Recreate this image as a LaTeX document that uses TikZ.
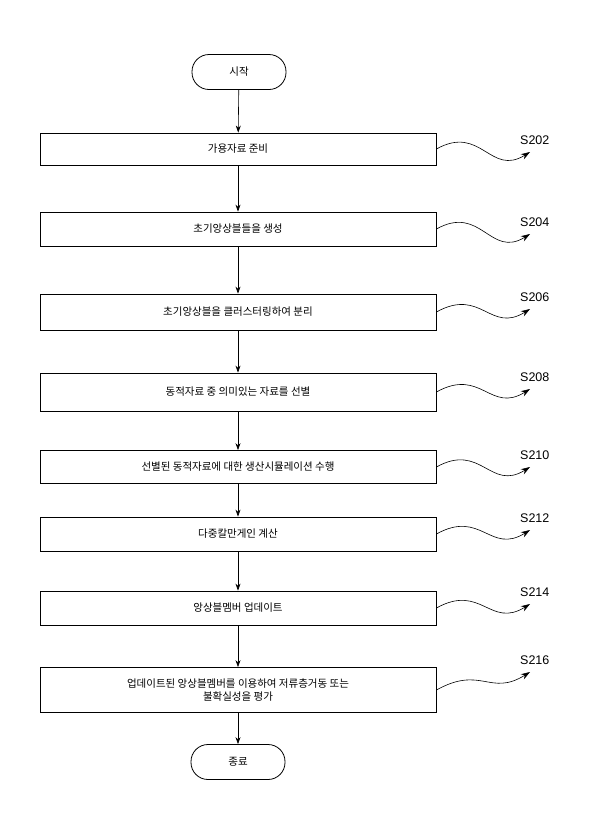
\documentclass[tikz,border=0pt]{standalone}
\usepackage{fontspec}
\newfontfamily\kr{Noto Sans CJK KR}
\setsansfont{Liberation Sans}
\usetikzlibrary{arrows.meta}
\begin{document}
\begin{tikzpicture}[x=1pt,y=-1pt,
  box/.style={draw,line width=0.8pt,minimum width=396pt,font=\kr\fontsize{10.5}{13}\selectfont,align=center,inner sep=2pt},
  term/.style={draw,line width=0.8pt,rounded corners=17pt,minimum width=94pt,minimum height=35pt,font=\kr\fontsize{10.5}{13}\selectfont},
  lab/.style={font=\fontsize{12.5}{14}\selectfont\sffamily,anchor=west,inner sep=0pt},
  flow/.style={-{Stealth[length=7pt,width=5pt]},line width=0.6pt},
  wave/.style={-{Stealth[length=9pt,width=6pt]},line width=0.6pt}]
\useasboundingbox (0,0) rectangle (600,836);
\node[term] (st) at (239,72) {시작};
\node[box,minimum height=32pt] (b1) at (238,149) {가용자료 준비};
\node[box,minimum height=34pt] (b2) at (238,229) {초기앙상블들을 생성};
\node[box,minimum height=36pt] (b3) at (238,312) {초기앙상블을 클러스터링하여 분리};
\node[box,minimum height=38pt] (b4) at (238,392) {동적자료 중 의미있는 자료를 선별};
\node[box,minimum height=33pt] (b5) at (238,467) {선별된 동적자료에 대한 생산시뮬레이션 수행};
\node[box,minimum height=34pt] (b6) at (238,534) {다중칼만게인 계산};
\node[box,minimum height=34pt] (b7) at (238,608) {앙상블멤버 업데이트};
\node[box,minimum height=45pt] (b8) at (238,690) {업데이트된 앙상블멤버를 이용하여 저류층거동 또는\\불확실성을 평가};
\node[term] (en) at (238,762) {종료};
\draw[flow] (st) -- (b1);
\foreach \a/\b in {b1/b2,b2/b3,b3/b4,b4/b5,b5/b6,b6/b7,b7/b8,b8/en}{\draw[flow] (\a) -- (\b);}
\foreach \n/\t/\ly in {b1/S202/140,b2/S204/222,b3/S206/297,b4/S208/377,b5/S210/455,b6/S212/518,b7/S214/592,b8/S216/660}{
  \node[lab] (l\n) at (520,\ly) {\t};
  \coordinate (e\n) at (530,\ly+12);
  \draw[wave] (\n.east) .. controls +(45,-25) and +(-40,25) .. (e\n);
}
\end{tikzpicture}
\end{document}
